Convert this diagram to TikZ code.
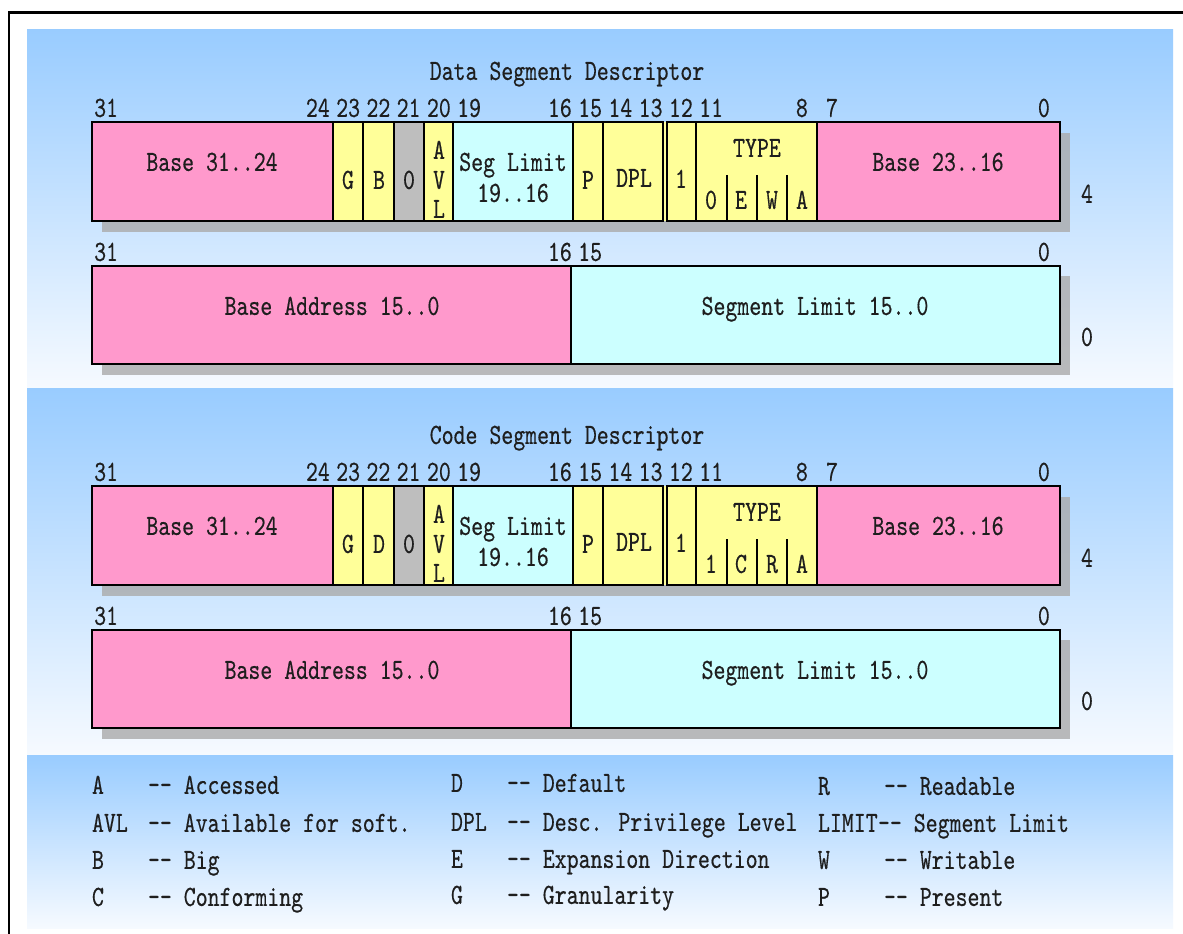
\documentclass[tikz,border=0pt]{standalone}
\usepackage{fontspec}
\newfontfamily\descfont{lmmono10-regular}[Extension=.otf, FakeStretch=0.775, FakeBold=0.4]
\usetikzlibrary{calc}
\definecolor{pinkf}{RGB}{255,153,204}
\definecolor{yellowf}{RGB}{255,255,153}
\definecolor{cyanf}{RGB}{204,255,255}
\definecolor{grayf}{RGB}{190,190,190}
\definecolor{panelTop}{RGB}{153,204,255}
\definecolor{panelBot}{RGB}{246,250,255}
\definecolor{shadowc}{RGB}{170,170,170}
\definecolor{inkc}{RGB}{30,30,30}
\tikzset{
  fieldbox/.style={draw=black, line width=1.1pt, inner sep=0pt, outer sep=0pt},
  txt/.style={inner sep=0pt, outer sep=0pt, text height=13.4pt, text depth=0pt,
              font=\descfont\fontsize{22}{22}\selectfont, text=inkc},
  shadowfill/.style={fill=shadowc, opacity=0.8},
  divider/.style={draw=black, line width=1pt},
  panel/.style={top color=panelTop, bottom color=panelBot},
  frameline/.style={draw=black, line width=1.8pt},
  legkey/.style={txt, anchor=west},
}
\newcommand\fieldbox[6]{%
  \node[fieldbox,#2,minimum width={(#4-#3)*0.75pt},minimum height={(#6-#5)*0.75pt}]
    (#1) at ({(#3+#4)/2},{(#5+#6)/2}) {};}
\newcommand\descriptor[8]{%
\begin{scope}[shift={(0,#2)}]
  \fill[shadowfill] (102,133) rectangle (1070,232);
  \fill[shadowfill] (102,276) rectangle (1070,375);
  \node[txt] (#1-title) at (567,71) {#3};
  \foreach \b in {31,24,23,22,21,20,19,16,15,14,13,12,11,8,7,0}{%
    \node[txt] (#1-hi-\b) at ({91+(31.5-\b)*30.25},108) {\b};}
  \foreach \b in {31,16,15,0}{%
    \node[txt] (#1-lo-\b) at ({91+(31.5-\b)*30.25},252) {\b};}
  \fill[yellowf] (663,122) rectangle (667,221);
  \fieldbox{#1-basehi}{fill=pinkf}{92}{333}{122}{221}
  \fieldbox{#1-g}{fill=yellowf}{333}{363}{122}{221}
  \fieldbox{#1-flag}{fill=yellowf}{363}{394}{122}{221}
  \fieldbox{#1-zero}{fill=grayf}{394}{424}{122}{221}
  \fieldbox{#1-avl}{fill=yellowf}{424}{453}{122}{221}
  \fieldbox{#1-limhi}{fill=cyanf}{453}{573}{122}{221}
  \fieldbox{#1-p}{fill=yellowf}{573}{603}{122}{221}
  \fieldbox{#1-dpl}{fill=yellowf}{603}{663}{122}{221}
  \fieldbox{#1-s}{fill=yellowf}{667}{696}{122}{221}
  \fieldbox{#1-type}{fill=yellowf}{696}{817}{122}{221}
  \fieldbox{#1-basemid}{fill=pinkf}{817}{1060}{122}{221}
  \fieldbox{#1-baselo}{fill=pinkf}{92}{571}{266}{364}
  \fieldbox{#1-limlo}{fill=cyanf}{571}{1060}{266}{364}
  \foreach \x in {727,757,787}{\draw[divider] (\x,175) -- (\x,221);}
  \node[txt] (#1-t-basehi) at (212,162) {Base 31..24};
  \node[txt] (#1-t-g) at (348,180) {G};
  \node[txt] (#1-t-flag) at (379,180) {#4};
  \node[txt] (#1-t-zero) at (409,180) {0};
  \node[txt] (#1-t-a) at (439,150) {A};
  \node[txt] (#1-t-v) at (439,180) {V};
  \node[txt] (#1-t-l) at (439,209) {L};
  \node[txt] (#1-t-lim1) at (513,162) {Seg Limit};
  \node[txt] (#1-t-lim2) at (513,193) {19..16};
  \node[txt] (#1-t-p) at (588,180) {P};
  \node[txt] (#1-t-dpl) at (634,178) {DPL};
  \node[txt] (#1-t-s) at (681,179) {1};
  \node[txt] (#1-t-type) at (757,148) {TYPE};
  \node[txt] (#1-t-b11) at (711,200) {#5};
  \node[txt] (#1-t-b10) at (741,200) {#6};
  \node[txt] (#1-t-b9) at (772,200) {#7};
  \node[txt] (#1-t-b8) at (802,200) {#8};
  \node[txt] (#1-t-basemid) at (938,162) {Base 23..16};
  \node[txt] (#1-off4) at (1087,194) {4};
  \node[txt] (#1-t-baselo) at (332,306) {Base Address 15..0};
  \node[txt] (#1-t-limlo) at (815,306) {Segment Limit 15..0};
  \node[txt] (#1-off0) at (1087,337) {0};
\end{scope}}
\begin{document}
\begin{tikzpicture}[x=0.75pt,y=-0.75pt]
\useasboundingbox (0,0) rectangle (1183,934);
\fill[white] (0,0) rectangle (1183,934);
\begin{scope}
  \clip (0,0) rectangle (1183,934);
  \draw[frameline] (8.7,12.5) rectangle (1300,1000);
\end{scope}
\shade[panel] (27,30) rectangle (1173,389);
\shade[panel] (27,389) rectangle (1173,755);
\shade[panel] (27,755) rectangle (1173,928);
\descriptor{d}{0}{Data Segment Descriptor}{B}{0}{E}{W}{A}
\descriptor{c}{364}{Code Segment Descriptor}{D}{1}{C}{R}{A}
% legend
\node[legkey] (k-a)   at (92,785) {A};
\node[legkey] (d-a)   at (148,785) {-- Accessed};
\node[legkey] (k-avl) at (92,823) {AVL};
\node[legkey] (d-avl) at (148,823) {-- Available for soft.};
\node[legkey] (k-b)   at (92,860) {B};
\node[legkey] (d-b)   at (148,860) {-- Big};
\node[legkey] (k-c)   at (92,897) {C};
\node[legkey] (d-c)   at (148,897) {-- Conforming};
\node[legkey] (k-d)   at (451,783) {D};
\node[legkey] (d-d)   at (507,783) {-- Default};
\node[legkey] (k-dpl) at (451,822) {DPL};
\node[legkey] (d-dpl) at (507,822) {-- Desc. Privilege Level};
\node[legkey] (k-e)   at (451,859) {E};
\node[legkey] (d-e)   at (507,859) {-- Expansion Direction};
\node[legkey] (k-g)   at (451,895) {G};
\node[legkey] (d-g)   at (507,895) {-- Granularity};
\node[legkey] (k-r)   at (818,786) {R};
\node[legkey] (d-r)   at (884,786) {-- Readable};
\node[legkey] (k-lim) at (818,823) {LIMIT};
\node[legkey] (d-lim) at (878,823) {-- Segment Limit};
\node[legkey] (k-w)   at (818,860) {W};
\node[legkey] (d-w)   at (884,860) {-- Writable};
\node[legkey] (k-p)   at (818,897) {P};
\node[legkey] (d-p)   at (884,897) {-- Present};
\end{tikzpicture}
\end{document}
